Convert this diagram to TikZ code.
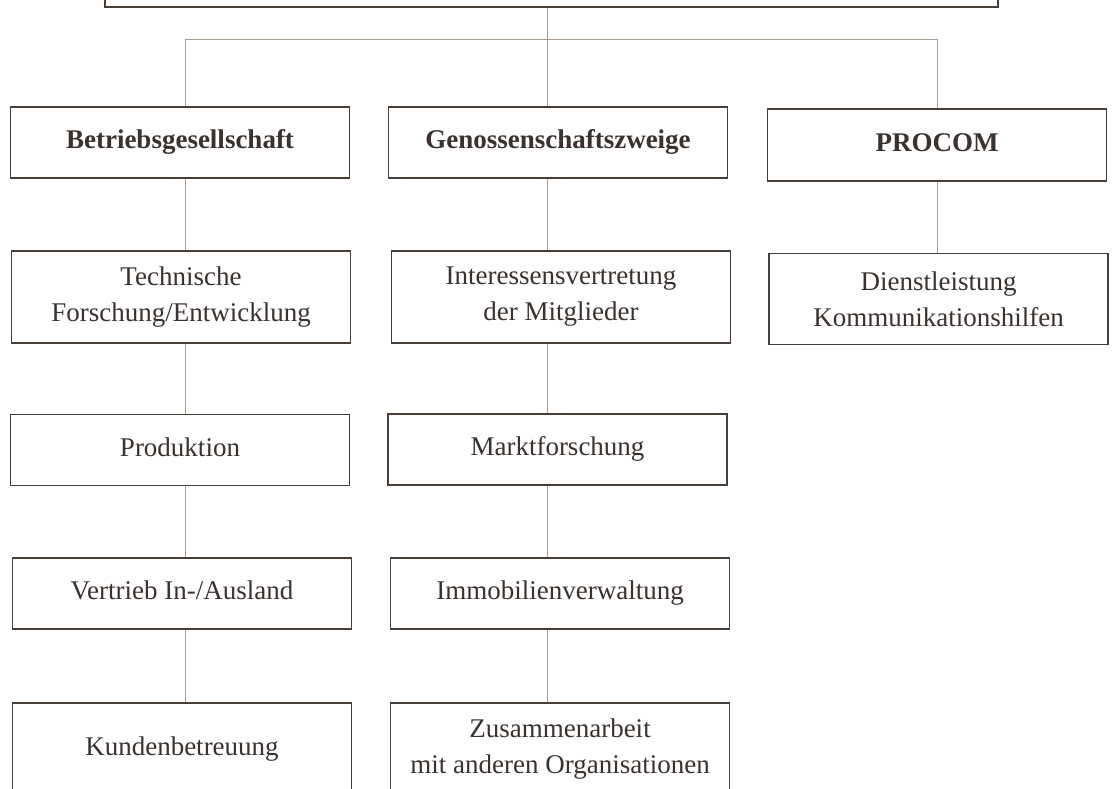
\documentclass[tikz,border=0pt]{standalone}
\usepackage{fontspec}
\setmainfont{Liberation Serif}
\usetikzlibrary{positioning}

\definecolor{boxline}{RGB}{72,62,56}
\definecolor{linkline}{RGB}{170,156,142}
\definecolor{inktext}{RGB}{58,50,46}

\begin{document}
\begin{tikzpicture}[
    x=1pt, y=-1pt,
    % Styles
    basebox/.style={draw=boxline, line width=1.2pt, fill=white, text=inktext, align=center,
        font=\fontsize{27}{36}\selectfont, minimum width=339pt, minimum height=71pt, inner sep=0pt},
    unit/.style={basebox, text height=18pt, text depth=6pt},
    branch/.style={unit, font=\fontsize{27}{36}\selectfont\bfseries},
    double-unit/.style={basebox, minimum height=92pt},
    head/.style={draw=boxline, line width=2.4pt, fill=white, minimum width=893pt, minimum height=60pt, inner sep=0pt},
    link/.style={draw=linkline, line width=0.8pt},
]

\clip (0,0) rectangle (1113,789);
\useasboundingbox (0,0) rectangle (1113,789);
\fill[white] (0,0) rectangle (1113,789);

% Column axes for the connectors
\coordinate (c1) at (185,0);
\coordinate (c2) at (547,0);
\coordinate (c3) at (937,0);
\coordinate (bus) at (0,39);

% Head (cut off at the top)
\node[head] (top) at (551.5,-23) {};

% Row 1: branches
\node[branch] (betrieb) at (180,142.5) {Betriebsgesellschaft};
\node[branch] (genossen) at (558,142.5) {Genossenschaftszweige};
\node[branch, minimum height=72pt] (procom) at (937,145) {PROCOM};

% Row 2
\node[double-unit] (technik) at (181,297) {Technische\\Forschung/Entwicklung};
\node[double-unit] (interessen) at (561,297) {Interessensvertretung\\der Mitglieder};
\node[double-unit, minimum height=91pt] (dienst) at (938.5,299) {Dienstleistung\\Kommunikationshilfen};

% Row 3
\node[unit] (produktion) at (180,450) {Produktion};
\node[unit] (markt) at (557.5,449.5) {Marktforschung};

% Row 4
\node[unit] (vertrieb) at (182,593.5) {Vertrieb In-/Ausland};
\node[unit] (immobilien) at (560,593.5) {Immobilienverwaltung};

% Row 5 (cut off at the bottom)
\node[unit, minimum height=92pt] (kunden) at (182,749) {Kundenbetreuung};
\node[double-unit] (zusammen) at (560,749) {Zusammenarbeit\\mit anderen Organisationen};

% Connectors from the head
\draw[link] (c2 |- top.south) -- (c2 |- genossen.north);
\draw[link] (c1 |- betrieb.north) -- (c1 |- bus) -- (c3 |- bus) -- (c3 |- procom.north);

% Column 1
\draw[link] (c1 |- betrieb.south) -- (c1 |- technik.north);
\draw[link] (c1 |- technik.south) -- (c1 |- produktion.north);
\draw[link] (c1 |- produktion.south) -- (c1 |- vertrieb.north);
\draw[link] (c1 |- vertrieb.south) -- (c1 |- kunden.north);

% Column 2
\draw[link] (c2 |- genossen.south) -- (c2 |- interessen.north);
\draw[link] (c2 |- interessen.south) -- (c2 |- markt.north);
\draw[link] (c2 |- markt.south) -- (c2 |- immobilien.north);
\draw[link] (c2 |- immobilien.south) -- (c2 |- zusammen.north);

% Column 3
\draw[link] (c3 |- procom.south) -- (c3 |- dienst.north);

\end{tikzpicture}
\end{document}
